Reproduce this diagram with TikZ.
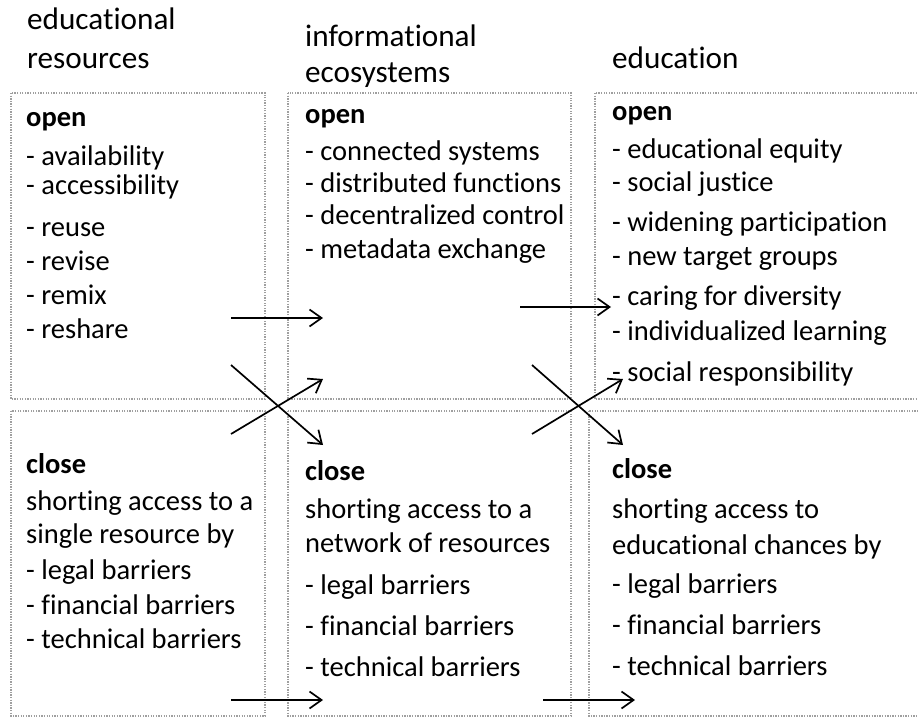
\documentclass[tikz,border=0pt]{standalone}
\usepackage{fontspec}
\setmainfont[Ligatures={NoCommon,NoContextual},RawFeature={-liga;-clig;-dlig}]{Carlito}
\usetikzlibrary{arrows.meta}
\begin{document}
\begin{tikzpicture}[x=1pt,y=-1pt,
  box/.style={draw=gray!75, line width=1.3pt, dash pattern=on 1.3pt off 1.3pt},
  hd/.style={anchor=base west, inner sep=0pt, font=\fontsize{31.2}{36}\selectfont},
  tx/.style={anchor=base west, inner sep=0pt, font=\fontsize{28.5}{34}\selectfont},
  bf/.style={anchor=base west, inner sep=0pt, font=\fontsize{28.5}{34}\selectfont\bfseries},
  arr/.style={line width=1.7pt, -{Straight Barb[length=12pt,width=17pt]}}]
\useasboundingbox (0,0) rectangle (918,717);
\clip (0,0) rectangle (918,717);
\fill[white] (0,0) rectangle (918,717);
% boxes
\draw[box] (11,93) rectangle (265,399);
\draw[box] (11,411) rectangle (265,716);
\draw[box] (288,93) rectangle (571,399);
\draw[box] (288,411) rectangle (571,716);
\draw[box] (595,93) rectangle (940,399);
\draw[box] (589,411) rectangle (940,716);
% headers
\node[hd] (h1a) at (27,30) {educational};
\node[hd] (h1b) at (27,68) {resources};
\node[hd] (h2a) at (305,47) {informational};
\node[hd] (h2b) at (305,82) {ecosystems};
\node[hd] (h3) at (612,68) {education};
% left open
\node[bf] (lo) at (26,126) {open};
\node[tx] (lo1) at (26,165) {- availability};
\node[tx] (lo2) at (26,194) {- accessibility};
\node[tx] (lo3) at (26,236) {- reuse};
\node[tx] (lo4) at (26,270) {- revise};
\node[tx] (lo5) at (26,304) {- remix};
\node[tx] (lo6) at (26,338) {- reshare};
% middle open
\node[bf] (mo) at (305,123) {open};
\node[tx] (mo1) at (305,160) {- connected systems};
\node[tx] (mo2) at (305,192) {- distributed functions};
\node[tx] (mo3) at (305,224) {- decentralized control};
\node[tx] (mo4) at (305,258) {- metadata exchange};
% right open
\node[bf] (ro) at (612,120) {open};
\node[tx] (ro1) at (612,158) {- educational equity};
\node[tx] (ro2) at (612,191) {- social justice};
\node[tx] (ro3) at (612,231) {- widening participation};
\node[tx] (ro4) at (612,265) {- new target groups};
\node[tx] (ro5) at (612,305) {- caring for diversity};
\node[tx] (ro6) at (612,340) {- individualized learning};
\node[tx] (ro7) at (612,381) {- social responsibility};
% left close
\node[bf] (lc) at (26,473) {close};
\node[tx] (lc1) at (26,510) {shorting access to a};
\node[tx] (lc2) at (26,543) {single resource by};
\node[tx] (lc3) at (26,579) {- legal barriers};
\node[tx] (lc4) at (26,614) {- financial barriers};
\node[tx] (lc5) at (26,648) {- technical barriers};
% middle close
\node[bf] (mc) at (305,480) {close};
\node[tx] (mc1) at (305,518) {shorting access to a};
\node[tx] (mc2) at (305,552) {network of resources};
\node[tx] (mc3) at (305,594) {- legal barriers};
\node[tx] (mc4) at (305,635) {- financial barriers};
\node[tx] (mc5) at (305,676) {- technical barriers};
% right close
\node[bf] (rc) at (612,478) {close};
\node[tx] (rc1) at (612,518) {shorting access to};
\node[tx] (rc2) at (612,554) {educational chances by};
\node[tx] (rc3) at (612,593) {- legal barriers};
\node[tx] (rc4) at (612,634) {- financial barriers};
\node[tx] (rc5) at (612,675) {- technical barriers};
% arrow coordinates
\coordinate (a1s) at (231,318); \coordinate (a1e) at (323,318);
\coordinate (a2s) at (231,365); \coordinate (a2e) at (323,445);
\coordinate (a3s) at (231,434); \coordinate (a3e) at (323,379);
\coordinate (a4s) at (231,700); \coordinate (a4e) at (323,700);
\coordinate (b1s) at (520,307); \coordinate (b1e) at (611,307);
\coordinate (b2s) at (532,365); \coordinate (b2e) at (623,445);
\coordinate (b3s) at (532,434); \coordinate (b3e) at (623,379);
\coordinate (b4s) at (543,700); \coordinate (b4e) at (635,700);
\draw[arr] (a1s) -- (a1e);
\draw[arr] (a2s) -- (a2e);
\draw[arr] (a3s) -- (a3e);
\draw[arr] (a4s) -- (a4e);
\draw[arr] (b1s) -- (b1e);
\draw[arr] (b2s) -- (b2e);
\draw[arr] (b3s) -- (b3e);
\draw[arr] (b4s) -- (b4e);
\end{tikzpicture}
\end{document}
